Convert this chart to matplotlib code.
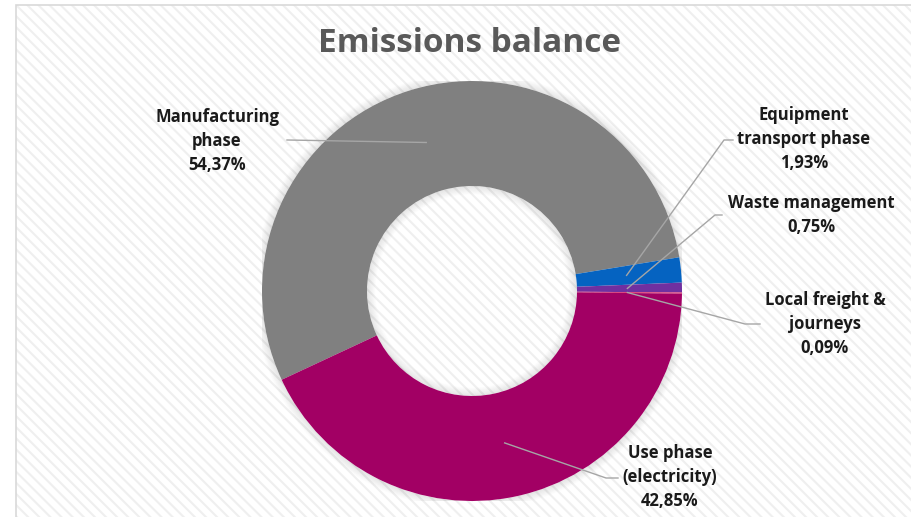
import matplotlib.pyplot as plt
from matplotlib.patches import Rectangle, Wedge
import numpy as np

categories = ['Manufacturing\nphase', 'Equipment\ntransport phase', 'Waste management',
              'Local freight &\njourneys', 'Use phase\n(electricity)']
shares = [54.37, 1.93, 0.75, 0.09, 42.85]
colors = ['#808080', '#0563C1', '#7030A0', '#E0346C', '#A20064']

# layout in pixels of the 912x517 picture: label centres, leader elbows and ends
label_pos = [(217, 141), (804, 139), (811, 215), (825, 324), (670, 477)]
elbows = [None, (724, 140), (715, 215), (745, 324), (606, 478)]
ends = [(287, 140), (733, 140), (722, 215), (760, 324), (618, 478)]

W, H = 912, 517
cx, cy, R = 472, 291, 210
plt.rcParams['font.family'] = ['Open Sans', 'DejaVu Sans']


def to_data(p):
    return (p[0] - cx) / R, (cy - p[1]) / R


fig = plt.figure(figsize=(W / 100, H / 100), dpi=100)
fig.patch.set_facecolor('white')

# striped chart area with thin border
plt.rcParams['hatch.linewidth'] = 1.5
fig.patches.append(Rectangle((16 / W, -0.02), 1.0, 1 - 5 / H + 0.02, transform=fig.transFigure,
                             facecolor='white', edgecolor='#efefef', hatch='\\\\\\', lw=0, zorder=-2))
fig.patches.append(Rectangle((16 / W, -0.02), 1.0, 1 - 5 / H + 0.02, transform=fig.transFigure,
                             fill=False, edgecolor='#d9d9d9', lw=1.2, zorder=-1))

ax = fig.add_axes([(cx - R) / W, (H - cy - R) / H, 2 * R / W, 2 * R / H])
ax.patch.set_alpha(0)

# soft shadow around the ring
n = 8
for i in range(n):
    a = 0.10 * (1 - i / n)
    ax.add_patch(Wedge((0, 0), 1.0 + 0.005 * (i + 1), 0, 360, width=0.005, color='black', alpha=a, lw=0))
    ax.add_patch(Wedge((0, 0), 0.5 - 0.005 * i, 0, 360, width=0.005, color='black', alpha=a, lw=0))

start = 205
wedges, _ = ax.pie(shares, colors=colors, startangle=start, counterclock=False,
                   wedgeprops=dict(width=0.5, edgecolor='none'))
ax.set_xlim(-1, 1)
ax.set_ylim(-1, 1)
ax.axis('off')

for w, name, v, lp, el, en in zip(wedges, categories, shares, label_pos, elbows, ends):
    mid = np.deg2rad((w.theta1 + w.theta2) / 2)
    p0 = (0.74 * np.cos(mid), 0.74 * np.sin(mid))
    pts = [p0] + ([to_data(el)] if el else []) + [to_data(en)]
    xs, ys = zip(*pts)
    ax.plot(xs, ys, color='#a6a6a6', lw=1.0, clip_on=False, zorder=5)
    tx, ty = to_data(lp)
    label = name + '\n' + f'{v:.2f}'.replace('.', ',') + '%'
    ax.text(tx, ty, label, ha='center', va='center', fontsize=12, fontweight='bold',
            color='#1a1a1a', linespacing=1.42, clip_on=False)

fig.text(470 / W, 1 - 43 / H, 'Emissions balance', ha='center', va='center',
         fontsize=24, fontweight='bold', color='#595959')

fig.savefig('out.png', dpi=100)
